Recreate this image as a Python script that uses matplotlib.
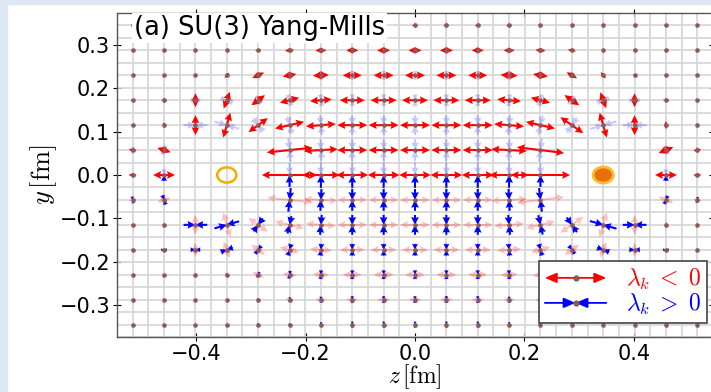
import numpy as np
import matplotlib
matplotlib.use('Agg')
import matplotlib.pyplot as plt
from matplotlib.patches import Circle, Rectangle, FancyArrowPatch
from matplotlib.legend_handler import HandlerBase
from matplotlib.lines import Line2D

plt.rcParams['mathtext.fontset'] = 'cm'
plt.rcParams['font.family'] = ['DejaVu Sans']

# ---------------- data ----------------
a = 0.0573                      # lattice spacing [fm]
cols = np.arange(-9, 10)        # z index
rows = np.arange(0, 7)          # y index (upper half, mirrored below)
quark_cols = [-6, 6]
nan = np.nan

# red eigenvector (lambda_k < 0) magnitude, rows y = 0 .. 6a
red_y0 = [4, 11, nan, nan, nan, 28, 19, 16, 16, 16, 16, 16, 20, 30, nan, nan, nan, 11, 4]
red_y1 = [4, 7, nan, nan, nan, 23, 17, 15, 15, 15, 15, 15, 18, 24, nan, nan, nan, 8, 4]
red_y2 = [1.5, 3, 10, 13, 12, 15, 15, 15, 15, 15, 15, 15, 15, 15, 14, 13, 10, 4, 1.5]
red_y3 = [1, 2.5, 7, 9, 8.5, 10, 11, 12.5, 13, 13, 13, 13, 12, 10, 9, 8.5, 7, 2.5, 1]
red_y4 = [1, 1, 1.5, 3.5, 6.5, 7, 8, 9.5, 10, 10, 10, 9.5, 8.5, 7.5, 6, 4, 1.5, 1, 1]
red_y5 = [1, 1, 1, 1.5, 3, 4.5, 5.5, 6, 6.5, 6.5, 6.5, 6, 5.5, 5, 4, 1.5, 1, 1, 1]
red_y6 = [1, 1, 1, 1, 1.5, 2, 2.5, 3, 3, 3, 3, 3, 3, 2.5, 2, 1.5, 1, 1, 1]

# orientation of the red eigenvector [deg]
ang_y0 = [0] * 19
ang_y1 = [-10, -18, nan, nan, nan, 6, 3, 0, 0, 0, 0, 0, -3, -7, nan, nan, nan, 22, 10]
ang_y2 = [0, 90, 90, 74, 36, 13, 5, 0, 0, 0, 0, 0, -5, -13, -35, -74, 90, 90, 0]
ang_y3 = [0, 90, 90, 70, 37, 15, 5, 0, 0, 0, 0, 0, -5, -15, -35, -70, 90, 90, 0]
ang_y4 = [0, 0, 60, 50, 25, 10, 3, 0, 0, 0, 0, 0, -3, -10, -30, -50, -60, 0, 0]
ang_y5 = [0, 0, 0, 0, 10, 5, 0, 0, 0, 0, 0, 0, 0, -5, -10, 0, 0, 0, 0]
ang_y6 = [0] * 19

# blue eigenvector (lambda_k > 0) magnitude
blue_y0 = [2, 6, nan, nan, nan, 12, 13, 13, 13, 13, 13, 13, 13, 12, nan, nan, nan, 6, 2]
blue_y1 = [3.5, 5, nan, nan, nan, 12, 11, 11, 11, 11, 11, 11, 11, 12, nan, nan, nan, 4.5, 3]
blue_y2 = [1, 1.5, 12, 13, 8, 9, 10, 10, 10, 10, 10, 10, 10, 10, 9, 14, 12, 1.5, 1]
blue_y3 = [1, 3, 5, 6.5, 5, 6, 6, 6, 6, 6, 6, 6, 6, 6, 5, 6.5, 5.5, 3, 1]
blue_y4 = [0.5, 0.5, 1, 1.5, 3, 4, 4.5, 4.5, 4.5, 4.5, 4.5, 4.5, 4.5, 4, 3, 1.5, 1, 0.5, 0.5]
blue_y5 = [0.5, 0.5, 0.5, 0.5, 1, 2.5, 3, 3.5, 3.5, 3.5, 3.5, 3.5, 3, 2.5, 1, 0.5, 0.5, 0.5, 0.5]
blue_y6 = [0.5, 0.5, 0.5, 0.5, 1, 2, 2.5, 3, 3, 3, 3, 3, 2.5, 2, 1, 0.5, 0.5, 0.5, 0.5]

xticks = [-0.4, -0.2, 0.0, 0.2, 0.4]
yticks = [-0.3, -0.2, -0.1, 0.0, 0.1, 0.2, 0.3]
title = '(a) SU(3) Yang-Mills'
legend_labels = [r'$\lambda_k\;<\;0$', r'$\lambda_k\;>\;0$']

red_rows = [red_y0, red_y1, red_y2, red_y3, red_y4, red_y5, red_y6]
ang_rows = [ang_y0, ang_y1, ang_y2, ang_y3, ang_y4, ang_y5, ang_y6]
blue_rows = [blue_y0, blue_y1, blue_y2, blue_y3, blue_y4, blue_y5, blue_y6]

# ---------------- build field (mirror in y) ----------------
Z, Y, R, B, TH = [], [], [], [], []
for r in rows:
    for k, c in enumerate(cols):
        rl = red_rows[r][k]
        if np.isnan(rl):
            continue
        signs = [1] if r == 0 else [1, -1]
        for s in signs:
            Z.append(c * a)
            Y.append(s * r * a)
            R.append(rl)
            B.append(blue_rows[r][k])
            TH.append(s * ang_rows[r][k])
Z, Y, R, B, TH = map(np.array, (Z, Y, R, B, TH))
th = np.deg2rad(TH)
ru, rv = R * np.cos(th), R * np.sin(th)
bu, bv = B * np.cos(th + np.pi / 2), B * np.sin(th + np.pi / 2)

# ---------------- figure ----------------
W, H = 711, 392
fig = plt.figure(figsize=(W / 100, H / 100), dpi=100)
fig.patch.set_facecolor('white')
fig.add_artist(Rectangle((0, 0), 7 / W, 1, transform=fig.transFigure,
                         color='#dde8f4', zorder=0))
fig.add_artist(Rectangle((0, 1 - 4 / H), 1, 4 / H, transform=fig.transFigure,
                         color='#dde8f4', zorder=0))

ax = fig.add_axes([117 / W, 1 - 337 / H, 596 / W, 324 / H])
xl = 0.537
yl = 0.366
ax.set_xlim(-xl, xl)
ax.set_ylim(-yl, yl)

pxs = 596 / (2 * xl)   # dots per fm in x (arrow magnitude unit -> px)

ax.set_xticks(np.arange(-19, 20) * a / 2, minor=True)
ax.set_yticks(np.arange(-13, 14) * a / 2, minor=True)
ax.grid(which='minor', color='#d6d6d6', lw=1.2, zorder=0)
ax.grid(which='major', visible=False)
ax.set_axisbelow(True)
ax.set_xticks(xticks)
ax.set_yticks(yticks)
ax.set_xticklabels([f'{t:.1f}'.replace('-', '\u2212') for t in xticks])
ax.set_yticklabels([f'{t:.1f}'.replace('-', '\u2212') for t in yticks])
ax.tick_params(which='major', direction='inout', length=6, width=0.8,
               top=True, right=True, labelsize=15, pad=2)
ax.tick_params(which='minor', length=0)
for sp in ax.spines.values():
    sp.set_color('#555555')
    sp.set_linewidth(1.0)

qkw = dict(angles='uv', scale_units='x', scale=pxs, units='dots',
           width=2.0, headwidth=3.8, headlength=3.9, headaxislength=3.5)

mR = R >= 1.0
mB = B >= 1.0
RZ = np.concatenate([Z[mR], Z[mR]]); RY = np.concatenate([Y[mR], Y[mR]])
RU = np.concatenate([ru[mR], -ru[mR]]); RV = np.concatenate([rv[mR], -rv[mR]])
BZ = np.concatenate([Z[mB], Z[mB]]); BY = np.concatenate([Y[mB], Y[mB]])
BU = np.concatenate([bu[mB], -bu[mB]]); BV = np.concatenate([bv[mB], -bv[mB]])

# faded full fields
ax.quiver(RZ, RY, RU, RV, pivot='tail', color=(1, 0, 0, 0.25), zorder=2, **qkw)
ax.quiver(BZ, BY, BU, BV, pivot='tip', color=(0, 0, 1, 0.22), zorder=2, **qkw)
# strong: red in upper half, blue in lower half
qr = ax.quiver(RZ, RY, RU, RV, pivot='tail', color='#ff0000', zorder=3, **qkw)
qb = ax.quiver(BZ, BY, BU, BV, pivot='tip', color='#0000ff', zorder=3, **qkw)
clip_up = Rectangle((-1, -0.35 * a), 2, 2, transform=ax.transData)
clip_dn = Rectangle((-1, -2), 2, 2.0015, transform=ax.transData)
qr.set_clip_path(clip_up)
qb.set_clip_path(clip_dn)

ax.scatter(Z, Y, s=11, color='#8c5a52', zorder=4, linewidths=0)

ax.add_patch(Circle((quark_cols[0] * a, 0), 0.0175, fill=False,
                    ec='#f2ac00', lw=1.8, zorder=5))
ax.add_patch(Circle((quark_cols[1] * a, 0), 0.0185, fc='#e8700a',
                    ec='#f7bf30', lw=2.0, zorder=5))

ax.text(0.028, 0.953, title, transform=ax.transAxes, fontsize=18.5,
        va='center', ha='left', zorder=6,
        bbox=dict(fc='white', ec='none', pad=1.5))

ax.set_xlabel(r'$z\,[\mathrm{fm}]$', fontsize=17)
ax.xaxis.set_label_coords(0.5, -0.079)
ax.set_ylabel(r'$y\,[\mathrm{fm}]$', fontsize=19, labelpad=0)


class ArrowHandler(HandlerBase):
    def __init__(self, inward):
        super().__init__()
        self.inward = inward

    def create_artists(self, legend, orig_handle, xdescent, ydescent,
                       width, height, fontsize, trans):
        x0 = -xdescent
        x1 = -xdescent + width
        xc = (x0 + x1) / 2
        yc = -ydescent + height / 2
        col = orig_handle.get_color()
        if self.inward:
            segs = [((x0, yc), (xc, yc)), ((x1, yc), (xc, yc))]
        else:
            segs = [((xc, yc), (x0, yc)), ((xc, yc), (x1, yc))]
        arts = []
        for p, q in segs:
            arts.append(FancyArrowPatch(p, q, arrowstyle='-|>,head_length=7,head_width=3',
                                        mutation_scale=1, color=col, lw=1.3,
                                        shrinkA=0, shrinkB=0, transform=trans))
        arts.append(Line2D([xc], [yc], marker='o', ms=3.5, color='#8c5a52',
                           ls='none', transform=trans))
        return arts


h_red = Line2D([], [], color='#ff0000')
h_blue = Line2D([], [], color='#0000ff')
leg = ax.legend([h_red, h_blue], legend_labels,
                handler_map={h_red: ArrowHandler(False), h_blue: ArrowHandler(True)},
                loc='lower right', bbox_to_anchor=(0.990, 0.043),
                borderaxespad=0, fontsize=17, labelcolor=['#ff0000', '#0000ff'],
                handlelength=2.6, handletextpad=0.85, borderpad=0.25,
                labelspacing=0.0, fancybox=False, framealpha=1,
                edgecolor='#444444')
leg.get_frame().set_linewidth(1.2)
leg.set_zorder(7)

fig.savefig('out.png', dpi=100)
